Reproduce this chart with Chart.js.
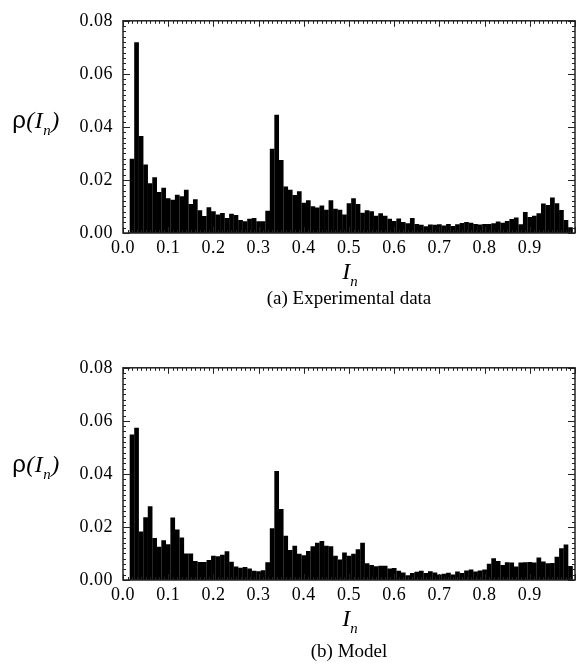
<!DOCTYPE html>
<html>
<head>
<meta charset="utf-8">
<script src="https://cdn.jsdelivr.net/npm/chart.js@4.4.0/dist/chart.umd.min.js"></script>
<style>
  body { margin: 0; background: #fff; width: 576px; height: 671px; position: relative; overflow: hidden; font-family: 'Liberation Serif', serif; color: #000; }
  .box { position: absolute; left: 0; width: 576px; height: 262px; }
  .lbl { position: absolute; transform: translate(-50%, -50%); white-space: nowrap; line-height: 1; }
  .ylab { font-size: 24px; letter-spacing: 0.5px; }
  .ylab .rho { font-family: 'Liberation Sans', sans-serif; }
  .ylab i, .xlab i { font-family: 'Liberation Serif', serif; }
  .xlab { font-size: 24px; }
  sub { font-size: 62%; vertical-align: -0.5em; font-style: italic; }
  .cap { font-size: 19px; }
</style>
</head>
<body>
<div class="box" style="top:0"><canvas id="chartA" width="576" height="262"></canvas></div>
<div class="box" style="top:347px"><canvas id="chartB" width="576" height="262"></canvas></div>

<div class="lbl ylab" style="left:36px; top:123px"><span class="rho">ρ</span><i>(I<sub>n</sub>)</i></div>
<div class="lbl xlab" style="left:350px; top:274px"><i>I<sub>n</sub></i></div>
<div class="lbl cap" style="left:349px; top:297px">(a) Experimental data</div>

<div class="lbl ylab" style="left:36px; top:467px"><span class="rho">ρ</span><i>(I<sub>n</sub>)</i></div>
<div class="lbl xlab" style="left:350px; top:621px"><i>I<sub>n</sub></i></div>
<div class="lbl cap" style="left:349px; top:650px">(b) Model</div>

<script>
// histogram bins: width 0.01, first bin starts at 0.015
const binStart = 0.015;
const binWidth = 0.01;

// (a) Experimental data, rho(I_n) per bin
const expValues = [
  0.0280, 0.0719, 0.0366, 0.0258, 0.0188, 0.0210, 0.0155, 0.0171, 0.0131, 0.0125,
  0.0144, 0.0139, 0.0163, 0.0109, 0.0127, 0.0086, 0.0064, 0.0097, 0.0082, 0.0070,
  0.0075, 0.0057, 0.0073, 0.0068, 0.0049, 0.0044, 0.0054, 0.0057, 0.0044, 0.0044,
  0.0084, 0.0318, 0.0446, 0.0275, 0.0175, 0.0163, 0.0143, 0.0157, 0.0114, 0.0123,
  0.0101, 0.0096, 0.0104, 0.0088, 0.0123, 0.0091, 0.0088, 0.0070, 0.0112, 0.0131,
  0.0109, 0.0076, 0.0086, 0.0082, 0.0065, 0.0074, 0.0065, 0.0054, 0.0045, 0.0055,
  0.0041, 0.0037, 0.0057, 0.0034, 0.0031, 0.0025, 0.0032, 0.0031, 0.0033, 0.0028,
  0.0034, 0.0026, 0.0033, 0.0038, 0.0041, 0.0039, 0.0034, 0.0032, 0.0034, 0.0034,
  0.0037, 0.0043, 0.0039, 0.0045, 0.0053, 0.0058, 0.0033, 0.0079, 0.0060, 0.0065,
  0.0074, 0.0111, 0.0106, 0.0134, 0.0112, 0.0087, 0.0049, 0.0022
];

// (b) Model
const modelValues = [
  0.0549, 0.0574, 0.0183, 0.0237, 0.0278, 0.0158, 0.0125, 0.0150, 0.0135, 0.0236,
  0.0190, 0.0160, 0.0100, 0.0100, 0.0072, 0.0068, 0.0068, 0.0075, 0.0091, 0.0090,
  0.0095, 0.0108, 0.0069, 0.0051, 0.0046, 0.0049, 0.0043, 0.0035, 0.0033, 0.0037,
  0.0067, 0.0195, 0.0411, 0.0268, 0.0167, 0.0113, 0.0129, 0.0099, 0.0093, 0.0109,
  0.0127, 0.0140, 0.0147, 0.0129, 0.0127, 0.0091, 0.0077, 0.0104, 0.0091, 0.0099,
  0.0116, 0.0140, 0.0063, 0.0057, 0.0052, 0.0054, 0.0054, 0.0043, 0.0045, 0.0035,
  0.0028, 0.0018, 0.0026, 0.0031, 0.0035, 0.0026, 0.0033, 0.0028, 0.0021, 0.0024,
  0.0027, 0.0021, 0.0032, 0.0026, 0.0036, 0.0040, 0.0032, 0.0036, 0.0040, 0.0061,
  0.0082, 0.0072, 0.0057, 0.0067, 0.0066, 0.0051, 0.0066, 0.0067, 0.0068, 0.0066,
  0.0085, 0.0070, 0.0063, 0.0064, 0.0088, 0.0120, 0.0134, 0.0053
];

const xMin = 0, xMax = 1, xStep = 0.1, xMinor = 0.01;
const yMin = 0, yMax = 0.08, yStep = 0.02, yMinor = 0.002;

// slightly wider tick label spacing, like the original figure
const wideText = {
  id: 'wideText',
  beforeDraw(chart) { chart.ctx.letterSpacing = '0.5px'; },
  afterDraw(chart) { chart.ctx.letterSpacing = '0px'; }
};

// inward ticks on all four sides + box frame
const frameTicks = {
  id: 'frameTicks',
  afterDatasetsDraw(chart) {
    const { ctx, chartArea: a, scales: { x, y } } = chart;
    ctx.save();
    ctx.strokeStyle = '#222';
    ctx.lineWidth = 1;
    ctx.beginPath();
    const ny = Math.round((yMax - yMin) / yMinor);
    for (let i = 0; i <= ny; i++) {
      const py = Math.round(y.getPixelForValue(yMin + i * yMinor)) + 0.5;
      const len = i % 10 === 0 ? 7 : 3;
      ctx.moveTo(a.left, py); ctx.lineTo(a.left + len, py);
      ctx.moveTo(a.right, py); ctx.lineTo(a.right - len, py);
    }
    const nx = Math.round((xMax - xMin) / xMinor);
    for (let i = 0; i <= nx; i++) {
      const px = Math.round(x.getPixelForValue(xMin + i * xMinor)) + 0.5;
      const len = i % 10 === 0 ? 6 : 3;
      ctx.moveTo(px, a.top); ctx.lineTo(px, a.top + len);
      ctx.moveTo(px, a.bottom); ctx.lineTo(px, a.bottom - len);
    }
    ctx.stroke();
    ctx.lineWidth = 1.5;
    ctx.strokeRect(a.left, a.top, a.right - a.left, a.bottom - a.top);
    ctx.restore();
  }
};

const makeChart = (id, values) => {
  const points = values.map((v, i) => ({ x: binStart + binWidth * (i + 0.5), y: v }));
  return new Chart(document.getElementById(id), {
    type: 'bar',
    data: {
      datasets: [{
        data: points,
        backgroundColor: '#000',
        borderWidth: 0,
        barPercentage: 1.04,
        categoryPercentage: 1
      }]
    },
    options: {
      responsive: false,
      animation: false,
      layout: { padding: { top: 16, right: 1, left: 0, bottom: 0 } },
      plugins: { legend: { display: false }, tooltip: { enabled: false } },
      scales: {
        x: {
          type: 'linear',
          min: xMin,
          max: xMax,
          offset: false,
          grid: { display: false, offset: false, drawTicks: false },
          border: { display: false },
          afterFit: (s) => { s.height = 29; },
          ticks: {
            stepSize: xStep,
            padding: 4,
            color: '#000',
            maxRotation: 0,
            font: { family: 'Liberation Serif', size: 18 },
            callback: (v) => v > 0.95 ? null : v.toFixed(1)
          }
        },
        y: {
          min: yMin,
          max: yMax,
          grid: { display: false, drawTicks: false },
          border: { display: false },
          afterFit: (s) => { s.width = 123; },
          ticks: {
            stepSize: yStep,
            padding: 10,
            color: '#000',
            font: { family: 'Liberation Serif', size: 18 },
            callback: (v) => v.toFixed(2)
          }
        }
      }
    },
    plugins: [wideText, frameTicks]
  });
};

makeChart('chartA', expValues);
makeChart('chartB', modelValues);
</script>
</body>
</html>
